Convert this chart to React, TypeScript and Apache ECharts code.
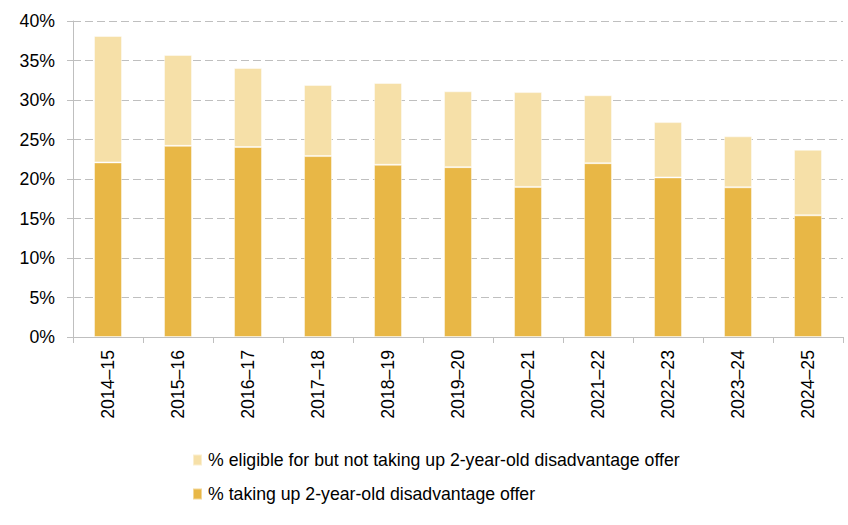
import React, { useEffect, useRef } from "react";
import * as echarts from "echarts";

// School years shown along the horizontal axis
const years = [
  "2014–15", "2015–16", "2016–17", "2017–18", "2018–19", "2019–20",
  "2020–21", "2021–22", "2022–23", "2023–24", "2024–25",
];

// Share of 2-year-olds taking up the disadvantage offer (%)
const takingUp = [22.1, 24.2, 24.05, 22.9, 21.8, 21.5, 19.0, 22.0, 20.2, 18.95, 15.4];

// Share eligible but not taking up the offer (%), stacked on top
const eligibleNotTaking = [16.0, 11.5, 10.0, 9.0, 10.35, 9.6, 12.0, 8.6, 7.0, 6.45, 8.3];

const seriesNames = [
  "% eligible for but not taking up 2-year-old disadvantage offer",
  "% taking up 2-year-old disadvantage offer",
];

const DARK = "#E8B746";
const LIGHT = "#F6E0A8";
const GREY = "#BFBFBF";
const FONT = "Liberation Sans, Arial, sans-serif";
const FS = 17.7;

export default function App() {
  const ref = useRef<HTMLDivElement>(null);

  useEffect(() => {
    if (!ref.current) return;
    const chart = echarts.init(ref.current, undefined, { renderer: "svg" });
    chart.setOption({
      animation: false,
      backgroundColor: "#ffffff",
      textStyle: { fontFamily: FONT },
      grid: { left: 73, right: 5, top: 21, bottom: 188, containLabel: false },
      legend: {
        orient: "vertical",
        left: 187,
        top: 446,
        icon: "rect",
        itemWidth: 9,
        itemHeight: 11,
        itemGap: 16,
        data: seriesNames,
        textStyle: { color: "#000", fontSize: FS, fontFamily: FONT, padding: [0, 0, 0, 1] },
      },
      xAxis: {
        type: "category",
        data: years,
        axisLine: { show: true, lineStyle: { color: GREY, width: 1 } },
        axisTick: { show: true, length: 6, lineStyle: { color: GREY } },
        axisLabel: { rotate: 90, margin: 13, color: "#000", fontSize: FS, fontFamily: FONT },
      },
      yAxis: {
        type: "value",
        min: 0,
        max: 40,
        interval: 5,
        axisLine: { show: true, lineStyle: { color: GREY, width: 1 } },
        axisTick: { show: true, length: 6, lineStyle: { color: GREY } },
        axisLabel: {
          formatter: "{value}%",
          margin: 18,
          color: "#000",
          fontSize: FS,
          fontFamily: FONT,
        },
        splitLine: {
          show: true,
          lineStyle: { color: GREY, type: [8, 4], width: 1 },
        },
      },
      series: [
        {
          name: seriesNames[1],
          type: "bar",
          stack: "total",
          barWidth: "40%",
          data: takingUp,
          itemStyle: { color: DARK, borderColor: "rgba(255,255,255,0.45)", borderWidth: 1 },
        },
        {
          name: seriesNames[0],
          type: "bar",
          stack: "total",
          barWidth: "40%",
          data: eligibleNotTaking,
          itemStyle: { color: LIGHT, borderColor: "rgba(255,255,255,0.45)", borderWidth: 1 },
        },
      ],
    });
    return () => chart.dispose();
  }, []);

  return <div ref={ref} style={{ width: 848, height: 525, position: "absolute", left: 0, top: 0 }} />;
}
